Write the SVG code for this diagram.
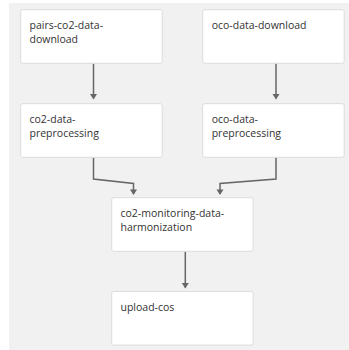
<svg xmlns="http://www.w3.org/2000/svg" width="349" height="350" viewBox="0 0 349 350">
  <style>
    .node rect { fill: #ffffff; stroke: #dcdcdc; stroke-width: 1; }
    .node text { font-family: "Open Sans", "Noto Sans", sans-serif; font-size: 10.5px; fill: #333333; }
    .edge { fill: none; stroke: #666666; stroke-width: 1.5; marker-end: url(#arrow); }
  </style>
  <defs>
    <!-- small solid arrowhead, tip along +x so orient="auto" follows the line -->
    <marker id="arrow" markerWidth="6" markerHeight="8" refX="4.5" refY="3.5" orient="auto" markerUnits="userSpaceOnUse" viewBox="0 0 6 7" overflow="visible">
      <path d="M0 0 L5.5 3.5 L0 7 Z" fill="#666666"/>
    </marker>
  </defs>
  <!-- canvas background -->
  <rect x="9" y="3" width="345" height="352" fill="#f1f1f1"/>

  <g id="connectors">
    <path class="edge" d="M93.5 63.5 V98.5"/>
    <path class="edge" d="M276 63.5 V98.5"/>
    <path class="edge" d="M93.5 157.5 V179 L133.5 183.5 V194"/>
    <path class="edge" d="M276 157.5 V179 L220 183.5 V194"/>
    <path class="edge" d="M185.3 251.5 V287.5"/>
  </g>

  <g id="pairs-co2-data-download" class="node">
    <rect x="20.7" y="9.7" width="141.5" height="53.6" rx="2"/>
    <text x="29.5" y="28.7">pairs-co2-data-</text>
    <text x="29.5" y="42.5">download</text>
  </g>
  <g id="oco-data-download" class="node">
    <rect x="202.7" y="9.7" width="141.5" height="53.6" rx="2"/>
    <text x="211.7" y="28.7">oco-data-download</text>
  </g>
  <g id="co2-data-preprocessing" class="node">
    <rect x="20.7" y="103.7" width="141.5" height="53.6" rx="2"/>
    <text x="29.5" y="122.7">co2-data-</text>
    <text x="29.5" y="136.5">preprocessing</text>
  </g>
  <g id="oco-data-preprocessing" class="node">
    <rect x="202.7" y="103.7" width="141.5" height="53.6" rx="2"/>
    <text x="211.7" y="122.7">oco-data-</text>
    <text x="211.7" y="136.5">preprocessing</text>
  </g>
  <g id="co2-monitoring-data-harmonization" class="node">
    <rect x="111.7" y="197.7" width="141.5" height="53.6" rx="2"/>
    <text x="120.5" y="216.7">co2-monitoring-data-</text>
    <text x="120.5" y="230.5">harmonization</text>
  </g>
  <g id="upload-cos" class="node">
    <rect x="111.7" y="291.5" width="141.5" height="53.6" rx="2"/>
    <text x="120.5" y="310.5">upload-cos</text>
  </g>
</svg>
